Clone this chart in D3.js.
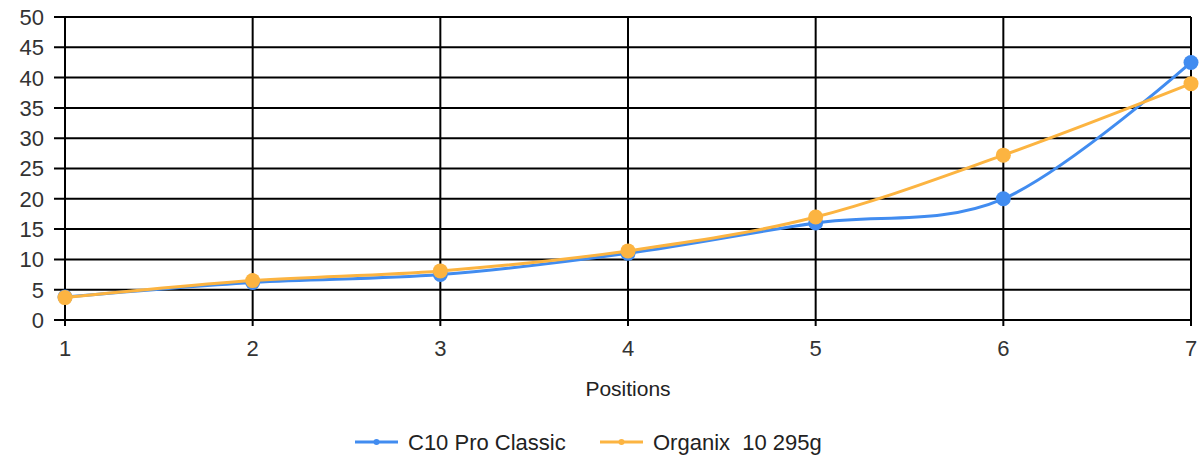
<!DOCTYPE html>
<html><head><meta charset="utf-8">
<script src="https://cdn.jsdelivr.net/npm/d3@7"></script>
<style>
body{margin:0;background:#fff;}
text{font-family:"Liberation Sans",Arial,sans-serif;}
</style></head>
<body><svg id="c" width="1203" height="458"></svg>
<script>
const positions = [1,2,3,4,5,6,7];
const c10Values = [3.8,6.2,7.5,11,16,20,42.5];
const organixValues = [3.7,6.5,8.1,11.4,17,27.2,39];
const yTicks = [0,5,10,15,20,25,30,35,40,45,50];
const seriesNames = ["C10 Pro Classic","Organix  10 295g"];
const seriesColors = ["#418CF0","#FCB441"];

const svg = d3.select("#c");
const L=65, R=1191, T=17, B=320;
const x = d3.scaleLinear().domain([1,7]).range([L,R]);
const y = d3.scaleLinear().domain([0,50]).range([B,T]);

svg.append("g").selectAll("line").data(yTicks).join("line")
  .attr("x1",L-11).attr("x2",R).attr("y1",d=>y(d)).attr("y2",d=>y(d))
  .attr("stroke","#000").attr("stroke-width",2);
svg.append("g").selectAll("line").data(positions).join("line")
  .attr("x1",d=>x(d)).attr("x2",d=>x(d)).attr("y1",T).attr("y2",B+6)
  .attr("stroke","#000").attr("stroke-width",2);

svg.append("g").selectAll("text").data(yTicks).join("text")
  .attr("x",44).attr("y",d=>y(d)).attr("dy","0.36em").attr("text-anchor","end")
  .attr("font-size",22).attr("fill","#333").text(d=>d);
svg.append("g").selectAll("text").data(positions).join("text")
  .attr("x",d=>x(d)).attr("y",348).attr("dy","0.36em").attr("text-anchor","middle")
  .attr("font-size",22).attr("fill","#333").text(d=>d);

svg.append("text").attr("x",(L+R)/2).attr("y",388).attr("dy","0.36em")
  .attr("text-anchor","middle").attr("font-size",21).attr("fill","#222").text("Positions");

const line = d3.line().x((d,i)=>x(positions[i])).y(d=>y(d)).curve(d3.curveCardinal.tension(0));
[c10Values, organixValues].forEach((vals,k)=>{
  const g = svg.append("g");
  g.append("path").attr("d",line(vals)).attr("fill","none")
    .attr("stroke",seriesColors[k]).attr("stroke-width",3);
  g.selectAll("circle").data(vals).join("circle")
    .attr("cx",(d,i)=>x(positions[i])).attr("cy",d=>y(d)).attr("r",7.5)
    .attr("fill",seriesColors[k]);
});

const legendX = [355, 600];
seriesNames.forEach((n,k)=>{
  const g = svg.append("g").attr("transform",`translate(${legendX[k]},442)`);
  g.append("line").attr("x1",0).attr("x2",43).attr("y1",0).attr("y2",0)
    .attr("stroke",seriesColors[k]).attr("stroke-width",3);
  g.append("circle").attr("cx",21.5).attr("cy",0).attr("r",3).attr("fill",seriesColors[k]);
  g.append("text").attr("x",53).attr("y",0).attr("dy","0.36em")
    .attr("font-size",22).attr("fill","#222").style("white-space","pre").text(n);
});
</script></body></html>
